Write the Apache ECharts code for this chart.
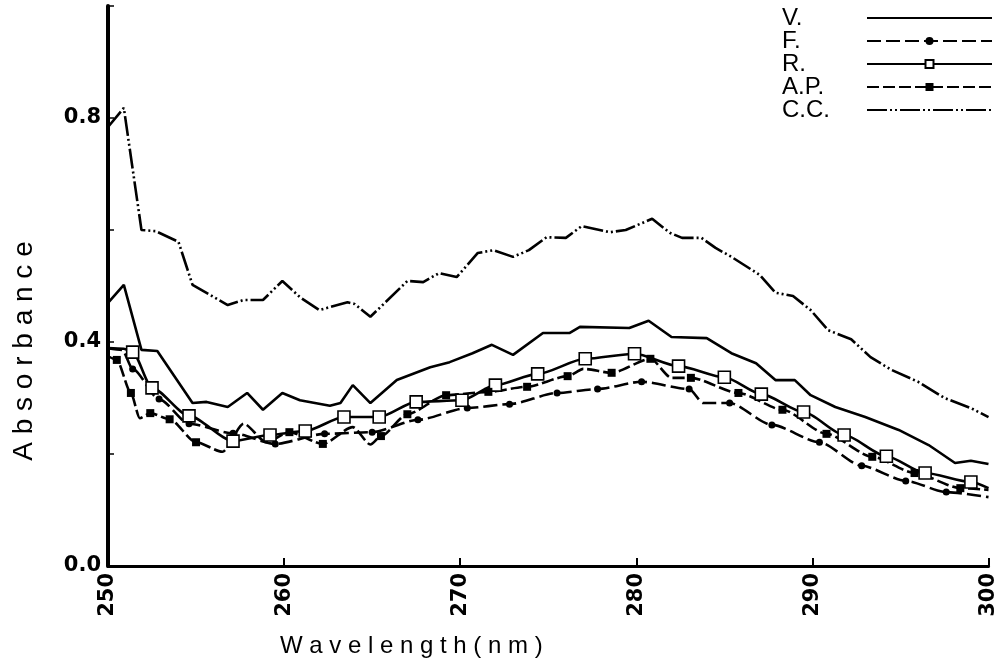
<!DOCTYPE html>
<html>
<head>
<meta charset="utf-8">
<script src="https://cdn.jsdelivr.net/npm/echarts@6/dist/echarts.min.js"></script>
<style>
html,body{margin:0;padding:0;background:#fff;}
#chart{width:999px;height:669px;}
</style>
</head>
<body>
<div id="chart"></div>
<script>
// ---- data ----
const seriesNames = ['V.', 'F.', 'R.', 'A.P.', 'C.C.'];
const xTicks = [250, 260, 270, 280, 290, 300];
const yTickLabels = ['0.0', '0.4', '0.8'];

const vWave = [250.0,250.9,251.9,252.8,254.8,255.6,256.8,257.9,258.8,259.9,260.9,262.6,263.2,263.9,264.9,266.4,268.3,269.4,270.7,271.8,273.0,274.7,276.2,276.8,279.6,280.7,282.0,284.0,285.4,286.8,287.9,289.0,289.9,291.3,293.0,294.9,296.6,298.1,299.0,300.0];
const vAbs  = [0.470,0.502,0.386,0.384,0.291,0.293,0.284,0.309,0.279,0.309,0.296,0.286,0.291,0.323,0.291,0.332,0.355,0.364,0.380,0.395,0.377,0.416,0.416,0.427,0.425,0.438,0.409,0.407,0.380,0.362,0.332,0.332,0.305,0.284,0.266,0.243,0.216,0.184,0.188,0.182];

const fWave = [250.0,250.8,251.4,252.9,254.6,257.1,259.5,262.3,265.0,267.6,270.4,272.8,275.5,277.8,280.3,283.0,283.8,285.3,287.7,290.4,292.8,295.3,297.6,300.0];
const fAbs  = [0.389,0.386,0.352,0.298,0.254,0.237,0.218,0.236,0.239,0.261,0.282,0.289,0.309,0.316,0.329,0.316,0.291,0.291,0.252,0.221,0.179,0.152,0.132,0.123];
const fMark = [0,0,1,1,1,1,1,1,1,1,1,1,1,1,1,1,0,1,1,1,1,1,1,0];

const rWave = [250.0,250.9,251.4,252.5,254.6,257.1,259.2,261.2,263.4,265.4,267.5,270.1,272.0,274.4,277.1,279.9,282.4,285.0,287.1,289.5,291.8,294.2,296.4,299.0,300.0];
const rAbs  = [0.389,0.388,0.382,0.318,0.268,0.223,0.234,0.241,0.266,0.266,0.293,0.296,0.323,0.343,0.370,0.379,0.357,0.337,0.307,0.275,0.234,0.196,0.166,0.150,0.139];
const rMark = [0,0,1,1,1,1,1,1,1,1,1,1,1,1,1,1,1,1,1,1,1,1,1,1,0];

const apWave = [250.0,250.5,251.3,251.8,252.4,253.5,255.0,256.5,257.7,259.0,260.3,262.2,263.9,264.9,265.5,267.0,269.2,271.6,273.8,276.1,277.0,278.6,280.8,282.0,283.1,285.8,288.3,290.8,293.4,295.8,298.4,300.0];
const apAbs  = [0.375,0.368,0.309,0.264,0.273,0.262,0.221,0.204,0.254,0.221,0.239,0.218,0.248,0.217,0.232,0.271,0.305,0.311,0.320,0.339,0.352,0.345,0.370,0.336,0.336,0.309,0.279,0.236,0.195,0.166,0.139,0.136];
const apMark = [0,1,1,0,1,1,1,0,0,0,1,1,0,0,1,1,1,1,1,1,0,1,1,0,1,1,1,1,1,1,1,0];

const ccWave = [250.0,250.9,251.9,252.7,254.0,254.8,256.8,257.7,258.8,259.9,260.9,262.0,263.6,264.0,264.9,267.0,267.9,268.8,269.8,271.0,271.9,273.0,273.9,274.9,276.0,276.9,278.5,279.4,280.9,281.9,282.6,283.7,284.5,285.4,287.0,287.9,288.9,289.9,290.9,292.2,293.3,294.5,296.0,297.5,299.0,300.0];
const ccAbs  = [0.784,0.818,0.600,0.598,0.579,0.502,0.466,0.475,0.475,0.509,0.480,0.457,0.471,0.468,0.445,0.509,0.507,0.523,0.516,0.559,0.564,0.552,0.564,0.587,0.586,0.607,0.596,0.600,0.620,0.595,0.586,0.586,0.568,0.552,0.520,0.488,0.482,0.457,0.421,0.405,0.373,0.350,0.329,0.300,0.282,0.266];

// ---- build ----
function pairs(xs, ys) { return xs.map((x, i) => [x, ys[i]]); }
function marked(xs, ys, mk) {
  return xs.map((x, i) => mk[i] ? { value: [x, ys[i]] } : { value: [x, ys[i]], symbol: 'none' });
}

const FONT = '"Liberation Sans", Arial, Helvetica, sans-serif';
const TICKFONT = '"DejaVu Sans", sans-serif';
const chart = echarts.init(document.getElementById('chart'), null, { renderer: 'canvas' });

const noSymbol = { opacity: 0, color: 'rgba(0,0,0,0)', borderWidth: 0 };
const lineW = 2.6;
const option = {
  backgroundColor: '#fff',
  animation: false,
  grid: { left: 108, right: 9, top: 6, bottom: 103, containLabel: false },
  legend: {
    orient: 'vertical',
    right: 6,
    top: 6,
    padding: 0,
    align: 'right',
    itemWidth: 125,
    itemHeight: 10,
    itemGap: -1,
    data: seriesNames.map(function (n) {
      return (n === 'V.' || n === 'C.C.') ? { name: n, itemStyle: noSymbol } : { name: n };
    }),
    formatter: function (n) { return '{a|' + n + '}'; },
    textStyle: {
      color: '#000',
      rich: { a: { width: 80, align: 'left', fontSize: 24, lineHeight: 20, fontFamily: FONT, color: '#000' } }
    }
  },
  xAxis: {
    type: 'value',
    min: 250, max: 300, interval: 10,
    name: 'W a v e l e n g t h ( n m )',
    nameLocation: 'middle',
    nameGap: 68,
    nameTextStyle: { fontSize: 24, fontFamily: FONT, color: '#000', padding: [0, 274, 0, 0] },
    axisLine: { lineStyle: { color: '#000', width: 3 } },
    axisTick: { inside: true, length: 8, lineStyle: { color: '#000', width: 2 } },
    axisLabel: {
      rotate: 90, margin: 7, fontSize: 21, fontWeight: 'bold', fontFamily: TICKFONT, color: '#000',
      formatter: function (v) { return xTicks.indexOf(v) >= 0 ? String(v) : ''; }
    },
    splitLine: { show: false }
  },
  yAxis: {
    type: 'value',
    min: 0, max: 1.0, interval: 0.2,
    name: 'A b s o r b a n c e',
    nameLocation: 'middle',
    nameGap: 70,
    nameRotate: 90,
    nameTextStyle: { fontSize: 28, fontFamily: FONT, color: '#000', padding: [0, 130, 0, 0] },
    axisLine: { lineStyle: { color: '#000', width: 4 } },
    axisTick: { inside: true, length: 6, lineStyle: { color: '#000', width: 1.5 } },
    axisLabel: {
      margin: 7, fontSize: 21, fontWeight: 'bold', fontFamily: TICKFONT, color: '#000',
      formatter: function (v) { const s = v.toFixed(1); return yTickLabels.indexOf(s) >= 0 ? s : ''; }
    },
    splitLine: { show: false }
  },
  series: [
    {
      name: 'V.', type: 'line', data: pairs(vWave, vAbs), showSymbol: false, symbol: 'none',
      lineStyle: { color: '#000', width: lineW, type: 'solid' }, itemStyle: { color: '#000' }
    },
    {
      name: 'F.', type: 'line', data: marked(fWave, fAbs, fMark), smooth: 0.25, smoothMonotone: 'x',
      symbol: 'circle', symbolSize: 7,
      lineStyle: { color: '#000', width: lineW, type: [14, 5] }, itemStyle: { color: '#000' }
    },
    {
      name: 'R.', type: 'line', data: marked(rWave, rAbs, rMark), smooth: 0.25, smoothMonotone: 'x',
      symbol: 'rect', symbolSize: 12,
      lineStyle: { color: '#000', width: lineW, type: 'solid' },
      itemStyle: { color: '#fff', borderColor: '#000', borderWidth: 1.6 }
    },
    {
      name: 'A.P.', type: 'line', data: marked(apWave, apAbs, apMark), smooth: 0.25, smoothMonotone: 'x',
      symbol: 'rect', symbolSize: 8,
      lineStyle: { color: '#000', width: lineW, type: [12, 4] }, itemStyle: { color: '#000' }
    },
    {
      name: 'C.C.', type: 'line', data: pairs(ccWave, ccAbs), showSymbol: false, symbol: 'none',
      lineStyle: { color: '#000', width: lineW, type: [20, 3, 2, 3, 2, 3] }, itemStyle: { color: '#000' }
    }
  ]
};
chart.setOption(option);
</script>
</body>
</html>
